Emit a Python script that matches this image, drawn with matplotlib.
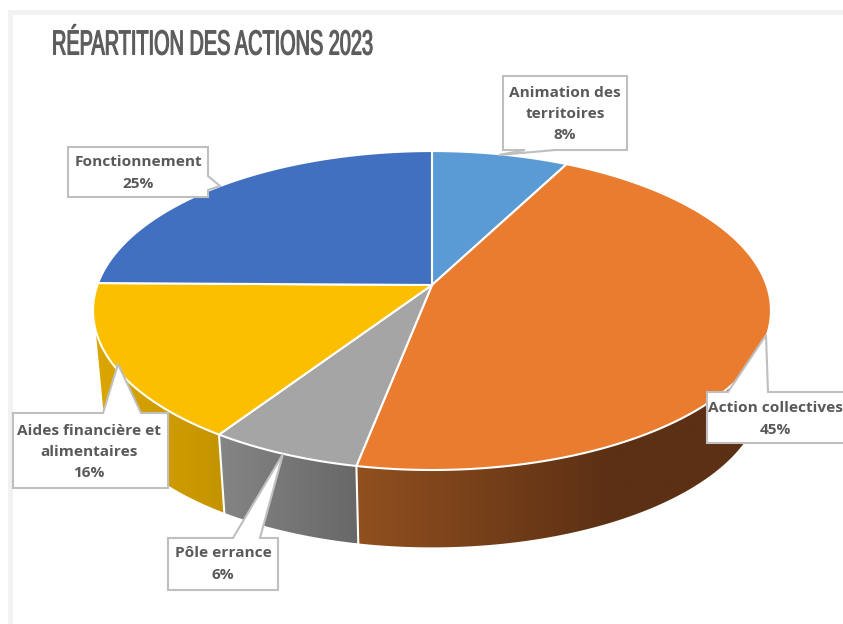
import numpy as np
import matplotlib
matplotlib.use("Agg")
import matplotlib.pyplot as plt
from matplotlib.patches import Polygon, Rectangle
from matplotlib.transforms import Affine2D
from matplotlib.patheffects import AbstractPathEffect
from matplotlib.colors import LinearSegmentedColormap

# ---- data (clockwise from 12 o'clock)
categories = ["Animation des\nterritoires", "Action collectives", "Pôle errance",
              "Aides financière et\nalimentaires", "Fonctionnement"]
values = [7.6, 45.45, 6.25, 15.9, 24.8]
title = "RÉPARTITION DES ACTIONS 2023"

# ---- style
top_colors = ["#5B9BD5", "#EA7C30", "#A5A5A5", "#FBBF00", "#4270C0"]
# index of the slices whose wall faces the viewer, with gradient ends
wall_slices = [1, 2, 3]
side_stops = {1: ("#91501F", "#5C3014"), 2: ("#848484", "#686868"), 3: ("#DCA600", "#C49400")}
side_span = {1: (356, 610), 2: (223, 356), 3: (95, 223)}
# where the left silhouette of the wall leaves the top rim and meets the lower rim
wall_end_top = {3: 0.705}
wall_end_low = {3: 0.71}

CX, CY, RX, RY, K = 432.0, 285.0, 334.6, 155.4, 0.16
DEPTH, SHRINK = 82.0, 0.975


class Squeeze(AbstractPathEffect):
    def __init__(self, x0, sx, stroke):
        super().__init__()
        self.x0, self.sx, self.stroke = x0, sx, stroke

    def draw_path(self, renderer, gc, tpath, affine, rgbFace=None):
        a = affine + Affine2D().translate(-self.x0, 0).scale(self.sx, 1).translate(self.x0, 0)
        gc0 = renderer.new_gc()
        gc0.copy_properties(gc)
        gc0.set_linewidth(self.stroke)
        gc0.set_foreground(rgbFace)
        renderer.draw_path(gc0, tpath, a, rgbFace)
        gc0.restore()


def rim(frac, lower=False):
    th = 2 * np.pi * np.asarray(frac)
    u, v = np.sin(th), np.cos(th)
    d = 1 + K * v
    x, y = RX * u / d, -RY * v / d
    if lower:
        return np.c_[CX + SHRINK * x, CY + DEPTH + SHRINK * y]
    return np.c_[CX + x, CY + y]


fig = plt.figure(figsize=(8.43, 6.24), dpi=100)
ax = fig.add_axes([0, 0, 1, 1])
ax.axis("off")

# chart-area frame strips
ax.add_patch(Rectangle((8, 10), 835, 5, fc="#F2F2F2", ec="none", zorder=0))
ax.add_patch(Rectangle((8, 10), 5, 614, fc="#F2F2F2", ec="none", zorder=0))

edges = np.cumsum([0] + values) / sum(values)

# side walls
for i in wall_slices:
    f_top = np.linspace(edges[i], wall_end_top.get(i, edges[i + 1]), 200)
    f_low = np.linspace(edges[i], wall_end_low.get(i, edges[i + 1]), 200)
    poly = np.vstack([rim(f_top), rim(f_low, True)[::-1]])
    patch = Polygon(poly, closed=True, fc="none", ec="none", zorder=1)
    ax.add_patch(patch)
    cmap = LinearSegmentedColormap.from_list("s", list(side_stops[i]))
    x0, x1 = side_span[i]
    xs = np.linspace(60, 800, 741)
    grad = np.clip((xs - x0) / (x1 - x0), 0, 1)[None, :]
    im = ax.imshow(grad, extent=(60, 800, 560, 150), cmap=cmap, aspect="auto",
                   vmin=0, vmax=1, interpolation="bilinear", zorder=1)
    im.set_clip_path(patch)
ax.set_xlim(0, 843)
ax.set_ylim(624, 0)

# separators on the walls
for e in edges[2:4]:
    p = np.vstack([rim([e]), rim([e], True)])
    ax.plot(p[:, 0], p[:, 1], color="white", lw=1.5, zorder=2)

# top faces
for i in range(len(values)):
    f = np.linspace(edges[i], edges[i + 1], 200)
    poly = np.vstack([[CX, CY], rim(f)])
    ax.add_patch(Polygon(poly, closed=True, fc=top_colors[i], ec="white", lw=1.5,
                         joinstyle="round", zorder=3))

# callouts: box (x0, y0, x1, y1), pointer (base a, tip, base b), side of the box
boxes = [(503, 76, 627, 150), (707, 392, 850, 443), (168, 538, 278, 590),
         (13, 413, 168, 488), (68, 147, 208, 197)]
pointers = [[(555, 150), (499, 155), (525, 150)],
            [(728, 392), (766, 335), (768, 392)],
            [(233, 538), (283, 454), (260, 538)],
            [(103, 413), (118, 364), (141, 413)],
            [(208, 176), (220, 186), (208, 190)]]
sides = ["bottom", "top", "top", "top", "right"]
text_y = [114, 419, 564, 452, 173]
text_x = [565, 775, 223, 89, 138]

for i, cat in enumerate(categories):
    x0, y0, x1, y1 = boxes[i]
    a, t, b = pointers[i]
    if sides[i] == "top":
        pts = [(x0, y0), a, t, b, (x1, y0), (x1, y1), (x0, y1)]
    elif sides[i] == "bottom":
        pts = [(x0, y0), (x1, y0), (x1, y1), a, t, b, (x0, y1)]
    else:
        pts = [(x0, y0), (x1, y0), a, t, b, (x1, y1), (x0, y1)]
    ax.add_patch(Polygon(pts, closed=True, fc="white", ec="#BFBFBF", lw=1.5,
                         joinstyle="miter", zorder=5))
    ax.text(text_x[i], text_y[i], f"{cat}\n{round(values[i])}%", ha="center", va="center",
            fontsize=11.1, fontfamily="Open Sans", fontweight="bold",
            color="#595959", linespacing=1.65, zorder=6)

# title
ax.text(52, 45, title, ha="left", va="center", fontsize=25,
        fontfamily=["Liberation Sans Narrow", "Liberation Sans"], color="#5C5C5C", zorder=6,
        path_effects=[Squeeze(52, 0.573, 0.8)])

fig.savefig("out.png", dpi=100)
